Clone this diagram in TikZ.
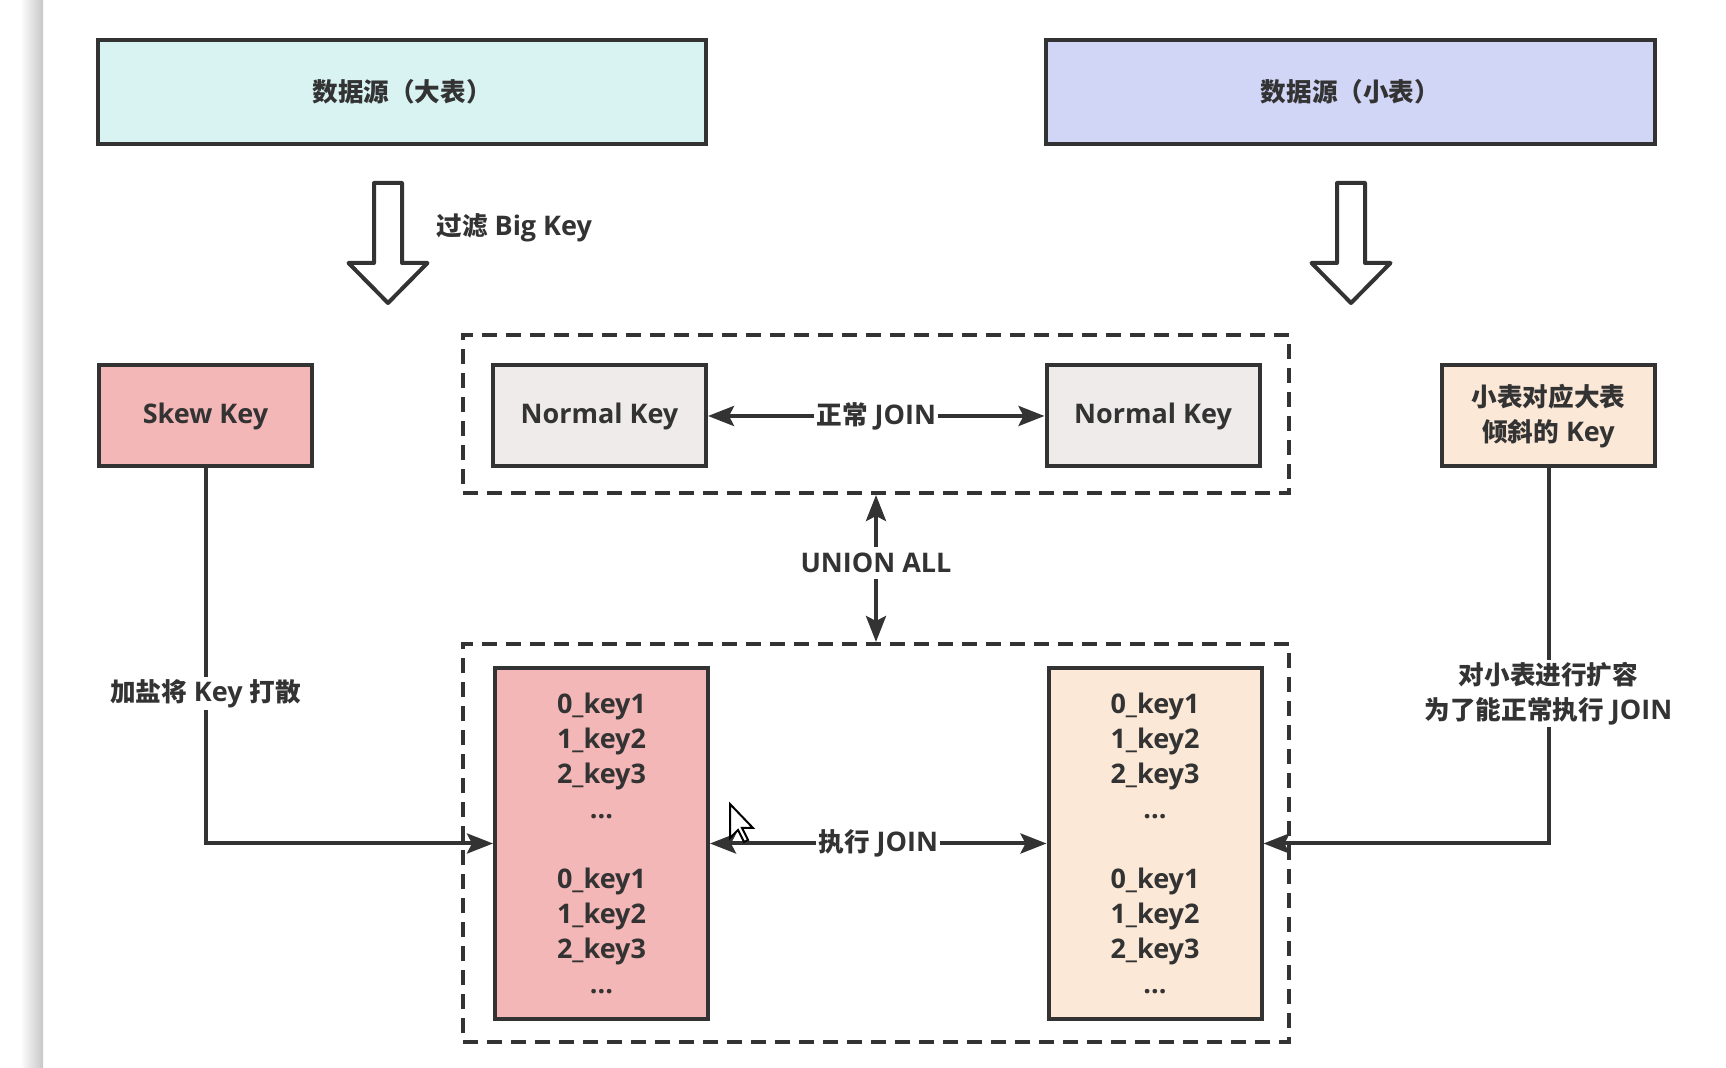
\documentclass[tikz,border=0pt]{standalone}
\usepackage{fontspec}
\setmainfont{Open Sans}
\newfontfamily\zhfont{Noto Sans CJK SC}
\usetikzlibrary{arrows.meta}
\definecolor{ink}{HTML}{333333}
\definecolor{bigfill}{HTML}{D9F3F3}
\definecolor{smallfill}{HTML}{D1D5F6}
\definecolor{skewfill}{HTML}{F4B7B7}
\definecolor{normfill}{HTML}{EEEBEA}
\definecolor{peachfill}{HTML}{FBE8D7}

\begin{document}
\begin{tikzpicture}[x=0.5pt, y=-0.5pt]
				\tikzset{txt/.style = {text=ink, align=center, font=\fontsize{13.5}{17.5}\selectfont\bfseries},
					box/.style = {txt, draw=ink, line width=2pt, inner sep=0pt},
					group/.style = {draw=ink, line width=2pt, dash pattern=on 7.5pt off 4.5pt, minimum width=413pt},
					link/.style = {draw=ink, line width=2pt, ->},
					tag/.style = {txt, fill=white, inner sep=1pt},
					hollow/.style = {draw=ink, fill=white, line width=2pt, line join=round},
					>={Stealth[length=13pt, width=10pt, inset=2.5pt]}}
				\newcommand\zh[1]{{\zhfont\fontsize{12.8}{17.5}\selectfont #1}}
				\useasboundingbox (0,0) rectangle (1726,1068);
				\shade[left color=white, right color=black!22] (20,0) rectangle (43,1068);
				\node[box, fill=bigfill, minimum width=304pt, minimum height=52pt] (bigSrc) at (402,92) {\zh{数据源（大表）}};
				\node[box, fill=smallfill, minimum width=304.5pt, minimum height=52pt] (smallSrc) at (1350.5,92) {\zh{数据源（小表）}};
				\foreach \cx in {388, 1351}{
					\draw[hollow] ({\cx-14},183) -- ({\cx+14},183) -- ({\cx+14},263) -- ({\cx+39.5},263) -- (\cx,303) -- ({\cx-39.5},263) -- ({\cx-14},263) -- cycle;
				}
				\node[txt, anchor=west, inner sep=0pt] (filterTag) at (436,228) {\zh{过滤} Big Key};
				\node[group, minimum height=79pt] (dashTop) at (876,414) {};
				\node[group, minimum height=199pt] (dashBot) at (876,843) {};
				\foreach \n/\x/\c/\t in {skew/205.5/skewfill/Skew Key, normL/599.5/normfill/Normal Key, normR/1153/normfill/Normal Key, smallSkew/1548.5/peachfill/{\zh{小表对应大表}\\\zh{倾斜的} Key}}{
					\node[box, fill=\c, minimum width=106.5pt, minimum height=50.5pt] (\n) at (\x,416) {\t};
				}
				\foreach \n/\x/\c in {keysL/601.5/skewfill, keysR/1155/peachfill}{
					\node[box, fill=\c, minimum width=106.5pt, minimum height=175.5pt] (\n) at (\x,843.5) {0\_key1\\1\_key2\\2\_key3\\...\\[17.5pt]0\_key1\\1\_key2\\2\_key3\\...};
				}
				\draw[link, <->] (normL) -- node[tag] {\zh{正常} JOIN} (normR);
				\draw[link, <->] (keysL) -- node[tag] {\zh{执行} JOIN} (keysR);
				\draw[link, <->] (dashTop.south) -- node[tag, inner sep=3pt, pos=0.46] {UNION ALL} (dashBot.north);
				\draw[link] (skew) |- node[tag, pos=0.3] {\zh{加盐将} Key \zh{打散}} (keysL);
				\draw[link] (smallSkew) |- node[tag, pos=0.3] {\zh{对小表进行扩容}\\\zh{为了能正常执行} JOIN} (keysR);
				\draw[fill=white, draw=black, line width=1pt] (730,804) -- ++(0,34) -- ++(8,-8) -- ++(6,12) -- ++(4,-2) -- ++(-6,-12) -- ++(11,0) -- cycle;
			\end{tikzpicture}
\end{document}
